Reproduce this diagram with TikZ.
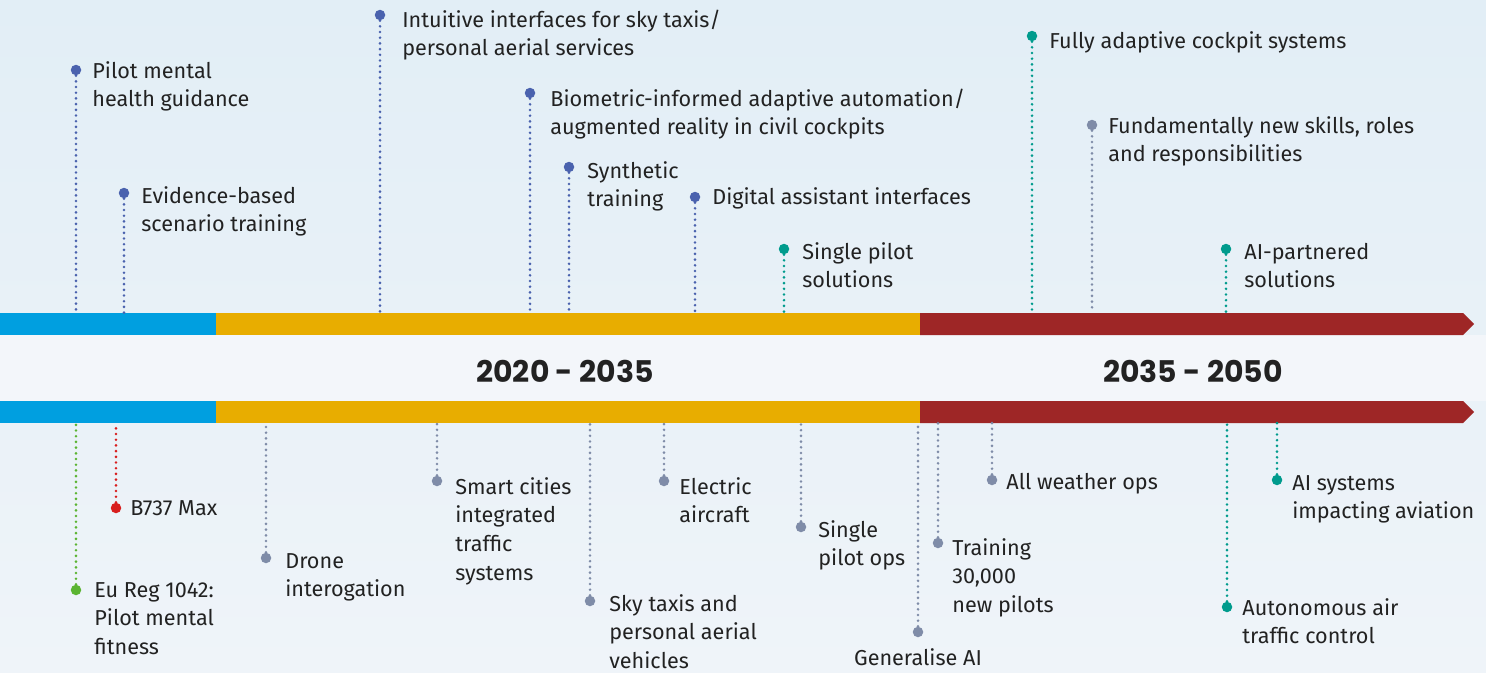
\documentclass[tikz,border=0pt]{standalone}
\usepackage{fontspec}
\setmainfont{Fira Sans}
\newfontfamily\yearfont{Poppins}
\definecolor{ink}{HTML}{222222}
\definecolor{bgtop}{HTML}{E2EEF6}
\definecolor{bgbot}{HTML}{EFF4F9}
\definecolor{bgmid}{HTML}{F3F6FA}
\definecolor{barblue}{HTML}{009FE0}
\definecolor{baryellow}{HTML}{E8AD00}
\definecolor{barred}{HTML}{9E2626}
\definecolor{dotblue}{HTML}{4A62AE}
\definecolor{dotteal}{HTML}{009B8D}
\definecolor{dotgrey}{HTML}{7F8CA8}
\definecolor{dotgreen}{HTML}{5BB432}
\definecolor{dotred}{HTML}{D81E1E}

\begin{document}
\begin{tikzpicture}[x=0.2mm,y=-0.2mm,
    every node/.style={inner sep=0pt},
    dot/.style={circle,fill=#1,minimum size=2.1mm},
    lnk/.style={#1,line width=0.58mm,line cap=round,dash pattern=on 0pt off 1.14mm},
    lbl/.style={anchor=base west,align=left,text=ink,font=\fontsize{12.3}{16.3}\selectfont},
    yr/.style={anchor=base,text=ink,font=\yearfont\bfseries\fontsize{17}{20}\selectfont}]

    \shade[top color=bgtop,bottom color=bgbot] (0,0) rectangle (1486,672);
    \fill[bgmid] (0,335) rectangle (1486,401);
    \useasboundingbox (0,0) rectangle (1486,672);

    % time bars
    \fill[barblue] (0,313) rectangle (216,335);
    \fill[baryellow] (216,313) rectangle (920,335);
    \fill[barred] (920,313) -- (1463,313) -- (1474,324) -- (1463,335) -- (920,335) -- cycle;
    \fill[barblue] (0,401) rectangle (216,423);
    \fill[baryellow] (216,401) rectangle (920,423);
    \fill[barred] (920,401) -- (1463,401) -- (1474,412) -- (1463,423) -- (920,423) -- cycle;
    \coordinate (topbar) at (0,313);
    \coordinate (lowbar) at (0,423);

    \node[yr] (y1) at (565,382) {2020 - 2035};
    \node[yr] (y2) at (1193,382) {2035 - 2050};

    % above the bar (labels sit on the baseline of their last line)
    \node[dot=dotblue] (pmh) at (76,70) {};
    \node[dot=dotblue] (ebs) at (124,193) {};
    \node[dot=dotblue] (iis) at (380,15) {};
    \node[dot=dotblue] (bio) at (530,93) {};
    \node[dot=dotblue] (syn) at (569,167) {};
    \node[dot=dotblue] (dai) at (695,197) {};
    \node[dot=dotteal] (spsol) at (784,249) {};
    \node[dot=dotteal] (fac) at (1032,36) {};
    \node[dot=dotgrey] (fns) at (1092,125) {};
    \node[dot=dotteal] (aip) at (1226,249) {};

    \node[lbl] (pmh-t) at (92,106.7) {Pilot mental\\health guidance};
    \node[lbl] (ebs-t) at (141,231.7) {Evidence-based\\scenario training};
    \node[lbl] (iis-t) at (402,55.7) {Intuitive interfaces for sky taxis/\\personal aerial services};
    \node[lbl] (bio-t) at (550,134.7) {Biometric-informed adaptive automation/\\augmented reality in civil cockpits};
    \node[lbl] (syn-t) at (587,206.7) {Synthetic\\training};
    \node[lbl] (dai-t) at (712,204) {Digital assistant interfaces};
    \node[lbl] (spsol-t) at (802,287.7) {Single pilot\\solutions};
    \node[lbl] (fac-t) at (1049,48) {Fully adaptive cockpit systems};
    \node[lbl] (fns-t) at (1108,161.7) {Fundamentally new skills, roles\\and responsibilities};
    \node[lbl] (aip-t) at (1244,287.7) {AI-partnered\\solutions};

    \draw[lnk=dotblue] (pmh) -- (pmh|-topbar);
    \draw[lnk=dotblue] (ebs) -- (ebs|-topbar);
    \draw[lnk=dotblue] (iis) -- (iis|-topbar);
    \draw[lnk=dotblue] (bio) -- (bio|-topbar);
    \draw[lnk=dotblue] (syn) -- (syn|-topbar);
    \draw[lnk=dotblue] (dai) -- (dai|-topbar);
    \draw[lnk=dotteal] (spsol) -- (spsol|-topbar);
    \draw[lnk=dotteal] (fac) -- (fac|-topbar);
    \draw[lnk=dotgrey] (fns) -- (fns|-topbar);
    \draw[lnk=dotteal] (aip) -- (aip|-topbar);

    % below the bar
    \node[dot=dotgreen] (eureg) at (76,590) {};
    \node[dot=dotred] (bmax) at (116,508) {};
    \node[dot=dotgrey] (drone) at (266,558) {};
    \node[dot=dotgrey] (smart) at (437,481) {};
    \node[dot=dotgrey] (skytaxi) at (590,601) {};
    \node[dot=dotgrey] (elec) at (664,481) {};
    \node[dot=dotgrey] (spops) at (801,527) {};
    \node[dot=dotgrey] (genai) at (918,632) {};
    \node[dot=dotgrey] (train) at (938,543) {};
    \node[dot=dotgrey] (allw) at (992,480) {};
    \node[dot=dotteal] (atc) at (1227,607) {};
    \node[dot=dotteal] (aisys) at (1277,480) {};

    \node[lbl] (eureg-t) at (94,654.4) {Eu Reg 1042:\\Pilot mental\\fitness};
    \node[lbl] (bmax-t) at (130,515) {B737 Max};
    \node[lbl] (drone-t) at (285,596.7) {Drone\\interogation};
    \node[lbl] (smart-t) at (455,580.1) {Smart cities\\integrated\\traffic\\systems};
    \node[lbl] (skytaxi-t) at (609,668.4) {Sky taxis and\\personal aerial\\vehicles};
    \node[lbl] (elec-t) at (679,522.7) {Electric\\aircraft};
    \node[lbl] (spops-t) at (818,565.7) {Single\\pilot ops};
    \node[lbl,anchor=base] (genai-t) at (918,665) {Generalise AI};
    \node[lbl] (train-t) at (952,612.4) {Training\\30,000\\new pilots};
    \node[lbl] (allw-t) at (1006,489) {All weather ops};
    \node[lbl] (atc-t) at (1242,643.7) {Autonomous air\\traffic control};
    \node[lbl] (aisys-t) at (1292,518.7) {AI systems\\impacting aviation};

    \draw[lnk=dotgreen] (eureg) -- (eureg|-lowbar);
    \draw[lnk=dotred] (bmax) -- (bmax|-lowbar);
    \draw[lnk=dotgrey] (drone) -- (drone|-lowbar);
    \draw[lnk=dotgrey] (smart) -- (smart|-lowbar);
    \draw[lnk=dotgrey] (skytaxi) -- (skytaxi|-lowbar);
    \draw[lnk=dotgrey] (elec) -- (elec|-lowbar);
    \draw[lnk=dotgrey] (spops) -- (spops|-lowbar);
    \draw[lnk=dotgrey] (genai) -- (genai|-lowbar);
    \draw[lnk=dotgrey] (train) -- (train|-lowbar);
    \draw[lnk=dotgrey] (allw) -- (allw|-lowbar);
    \draw[lnk=dotteal] (atc) -- (atc|-lowbar);
    \draw[lnk=dotteal] (aisys) -- (aisys|-lowbar);

\end{tikzpicture}
\end{document}
